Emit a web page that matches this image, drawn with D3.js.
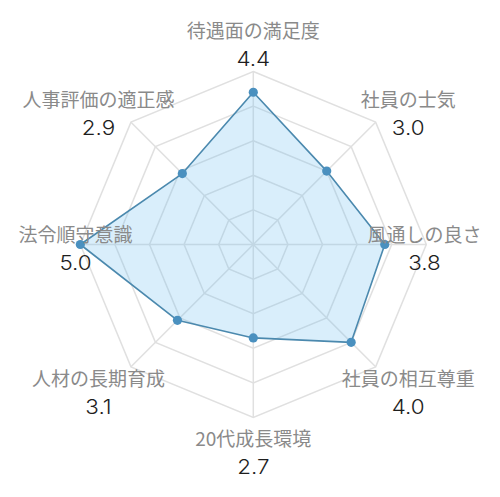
<!DOCTYPE html>
<html><head><meta charset="utf-8">
<script src="https://cdn.jsdelivr.net/npm/d3@7"></script>
<style>html,body{margin:0;padding:0;background:#fff;}svg{display:block;}</style>
</head><body>
<svg id="chart" width="500" height="497"></svg>
<script>
const categories = ["待遇面の満足度","社員の士気","風通しの良さ","社員の相互尊重","20代成長環境","人材の長期育成","法令順守意識","人事評価の適正感"];
const values = [4.4, 3.0, 3.8, 4.0, 2.7, 3.1, 5.0, 2.9];
const valueLabels = ["4.4","3.0","3.8","4.0","2.7","3.1","5.0","2.9"];
const gridLevels = [1, 2, 3, 4, 5];

const W = 500, H = 497;
const cx = 253.3, cy = 244.5, R = 173;
const svg = d3.select("#chart");

const r = d3.scaleLinear().domain([0, 5]).range([0, R]);
const angle = d3.scalePoint().domain(categories).range([0, 2*Math.PI*(categories.length-1)/categories.length]);
const pt = (c, v) => [cx + r(v)*Math.sin(angle(c)), cy - r(v)*Math.cos(angle(c))];

const g = svg.append("g");
gridLevels.forEach(l => {
  g.append("polygon")
    .attr("points", categories.map(c => pt(c, l).join(",")).join(" "))
    .attr("fill", "none").attr("stroke", "#e0e0e0").attr("stroke-width", 1.5);
});
categories.forEach(c => {
  const [x, y] = pt(c, 5);
  g.append("line").attr("x1", cx).attr("y1", cy).attr("x2", x).attr("y2", y)
    .attr("stroke", "#e0e0e0").attr("stroke-width", 1.5);
});

const line = d3.lineRadial().angle((d, i) => angle(categories[i])).radius(d => r(d)).curve(d3.curveLinearClosed);
g.append("path").datum(values)
  .attr("transform", `translate(${cx},${cy})`)
  .attr("d", line)
  .attr("fill", "rgba(110,190,238,0.26)")
  .attr("stroke", "#4b89ae").attr("stroke-width", 1.6).attr("stroke-linejoin", "round");

g.selectAll("circle.pt").data(values).join("circle").attr("class", "pt")
  .attr("cx", (d, i) => pt(categories[i], d)[0])
  .attr("cy", (d, i) => pt(categories[i], d)[1])
  .attr("r", 4.6).attr("fill", "#4a90bf");

const rx = 219, ry = 204, margin = 18.5;
const lab = svg.append("g");
categories.forEach((c, i) => {
  const a = angle(c);
  const s = Math.sin(a), co = Math.cos(a);
  let px = cx + rx*s;
  let py = cy - ry*co + 4;
  if (co > 0.3 && Math.abs(s) > 0.3) py += 9;
  const t = lab.append("text").text(c)
    .attr("font-family", "'Noto Sans CJK JP', sans-serif").attr("font-size", 19)
    .attr("fill", "#8a8a8a").attr("text-anchor", "middle");
  const w = t.node().getComputedTextLength();
  px = Math.max(margin + w/2, Math.min(W - margin - w/2, px));
  t.attr("x", px).attr("y", py - 14 + 7.3);
  lab.append("text").text(valueLabels[i])
    .attr("transform", `translate(${px},${py + 14.5 + 7.1}) scale(1.12,1)`)
    .attr("font-family", "Inter, 'Noto Sans', sans-serif").attr("font-size", 20).attr("font-weight", 300)
    .attr("fill", "#1e1e1e").attr("text-anchor", "middle");
});
</script>
</body></html>
